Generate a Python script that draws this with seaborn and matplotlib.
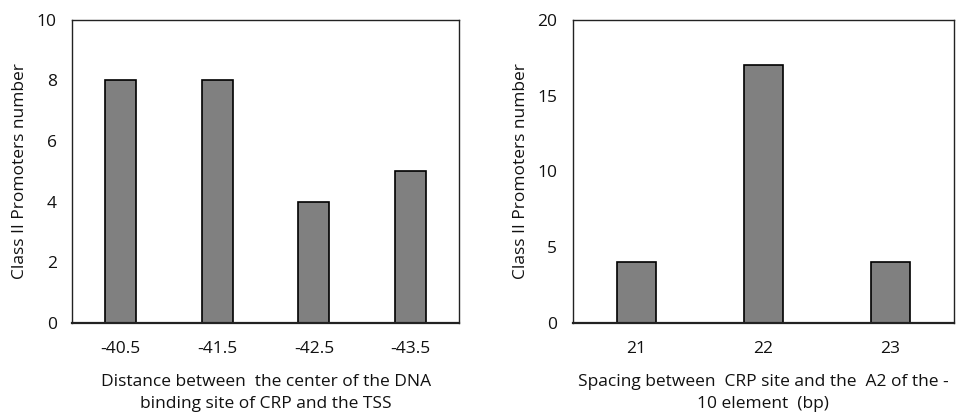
import matplotlib
matplotlib.use("Agg")
import matplotlib.pyplot as plt
import pandas as pd
import seaborn as sns

# left panel: distance CRP centre -> TSS
dist_labels = ["-40.5", "-41.5", "-42.5", "-43.5"]
dist_counts = [8, 8, 4, 5]

# right panel: spacing CRP site -> A2 of -10 element
spacing_labels = ["21", "22", "23"]
spacing_counts = [4, 17, 4]

sns.set_theme(style="white")
plt.rcParams['font.family'] = ['Open Sans', 'DejaVu Sans']

df_left = pd.DataFrame({"dist": dist_labels, "count": dist_counts})
df_right = pd.DataFrame({"spacing": spacing_labels, "count": spacing_counts})

fig = plt.figure(figsize=(9.56, 4.13), dpi=100)
ax1 = fig.add_axes([0.0753, 0.218, 0.405, 0.734])
ax2 = fig.add_axes([0.599, 0.218, 0.399, 0.734])

sns.barplot(data=df_left, x="dist", y="count", order=dist_labels, ax=ax1,
            color="#808080", saturation=1, width=0.32,
            edgecolor="black", linewidth=1.2)
sns.barplot(data=df_right, x="spacing", y="count", order=spacing_labels, ax=ax2,
            color="#808080", saturation=1, width=0.31,
            edgecolor="black", linewidth=1.2)

ax1.set_ylim(0, 10)
ax1.set_yticks([0, 2, 4, 6, 8, 10])
ax2.set_ylim(0, 20)
ax2.set_yticks([0, 5, 10, 15, 20])

fs = 12.5
ax1.set_xlabel("Distance between  the center of the DNA\nbinding site of CRP and the TSS",
               fontsize=fs, labelpad=12, linespacing=1.5, color="#111111")
ax2.set_xlabel("Spacing between  CRP site and the  A2 of the -\n10 element  (bp)",
               fontsize=fs, labelpad=12, linespacing=1.5, color="#111111")

for ax in (ax1, ax2):
    ax.set_ylabel("Class II Promoters number", fontsize=fs, labelpad=6, color="#111111")
    ax.tick_params(axis="both", length=0, labelsize=fs, labelcolor="#111111")
    ax.tick_params(axis="x", pad=13)
    ax.tick_params(axis="y", pad=11)
    for s in ax.spines.values():
        s.set_visible(True)
        s.set_color("#222222")
        s.set_linewidth(1.0)
    ax.spines["bottom"].set_linewidth(1.6)

fig.savefig("out.png", dpi=100)
